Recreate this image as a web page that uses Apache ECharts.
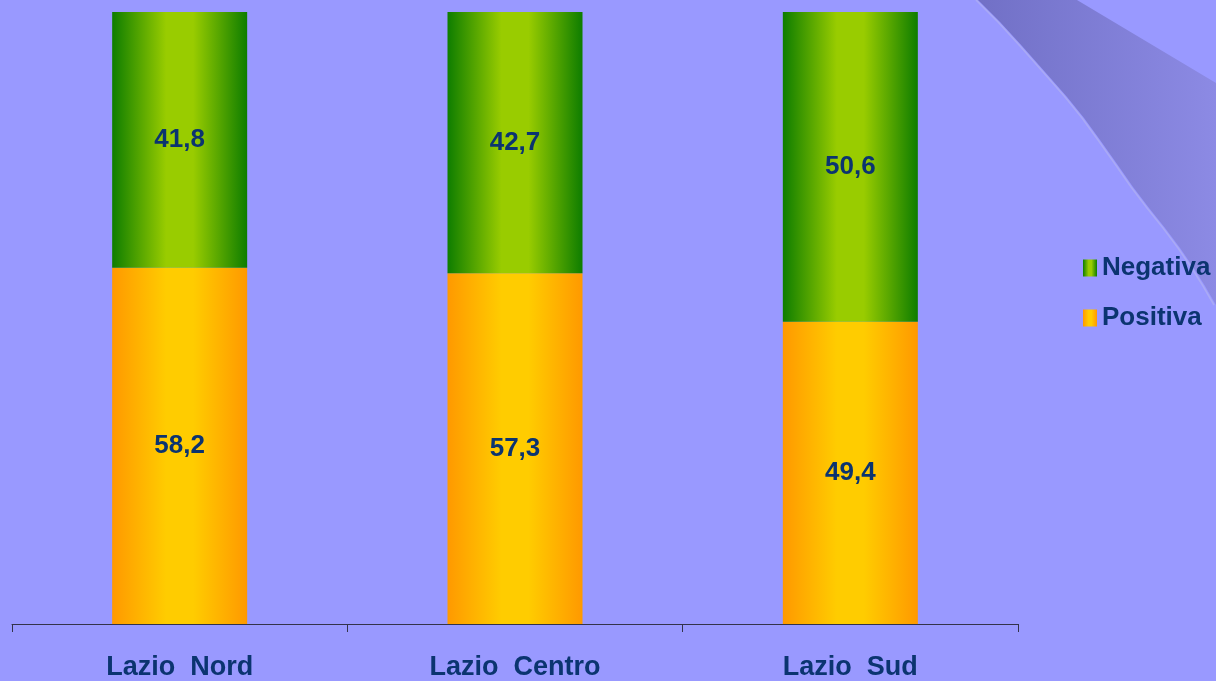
<!DOCTYPE html>
<html>
<head>
<meta charset="utf-8">
<script src="https://cdn.jsdelivr.net/npm/echarts@6/dist/echarts.min.js"></script>
<style>
    html, body { margin: 0; padding: 0; background: #9999ff; }
    #chart { width: 1216px; height: 681px; }
</style>
</head>
<body>
<div id="chart"></div>
<script>
const categories = ['Lazio  Nord', 'Lazio  Centro', 'Lazio  Sud'];
const positiva = [58.2, 57.3, 49.4];
const negativa = [41.8, 42.7, 50.6];

const textColor = '#0b3470';
const fontFamily = '"Liberation Sans", Arial, sans-serif';

// horizontal "cylinder" gradient: dark edges, light middle
function barGradient(edge, middle) {
    return new echarts.graphic.LinearGradient(0, 0, 1, 0, [
        { offset: 0, color: edge },
        { offset: 0.4, color: middle },
        { offset: 0.6, color: middle },
        { offset: 1, color: edge }
    ]);
}

const labelStyle = {
    show: true,
    position: 'inside',
    color: textColor,
    fontFamily: fontFamily,
    fontWeight: 'bold',
    fontSize: 26,
    formatter: p => String(p.value.toFixed(1)).replace('.', ',')
};

// curved decoration in the top right corner
const curveLeft = [
    [978, 0], [1000, 22], [1022, 46], [1045, 72], [1067, 97], [1084, 118],
    [1100, 140], [1117, 164], [1133, 187], [1149, 208], [1165, 228],
    [1180, 248], [1193, 267], [1205, 286], [1216, 305]
];

const chart = echarts.init(document.getElementById('chart'));

chart.setOption({
    backgroundColor: '#9999ff',
    animation: false,
    graphic: [
        {
            type: 'polygon',
            silent: true,
            z: 0,
            shape: {
                points: curveLeft.concat([[1216, 83], [1077, 0]])
            },
            style: {
                fill: new echarts.graphic.LinearGradient(0, 0, 1, 0, [
                    { offset: 0, color: '#7170c6' },
                    { offset: 1, color: '#8c8ae4' }
                ])
            }
        },
        {
            type: 'polyline',
            silent: true,
            z: 0,
            shape: {
                points: curveLeft.map(p => [p[0] - 2, p[1]])
            },
            style: { stroke: '#aaaaf5', lineWidth: 1.5, fill: null }
        }
    ],
    grid: {
        left: 12,
        right: 198,
        top: 12,
        bottom: 57,
        containLabel: false
    },
    legend: {
        orient: 'vertical',
        left: 1078,
        top: 250,
        icon: 'rect',
        itemWidth: 14,
        itemHeight: 17,
        itemGap: 24,
        data: ['Negativa', 'Positiva'],
        textStyle: {
            color: textColor,
            fontFamily: fontFamily,
            fontWeight: 'bold',
            fontSize: 26
        }
    },
    xAxis: {
        type: 'category',
        data: categories,
        axisLine: { lineStyle: { color: '#33334a', width: 1 } },
        axisTick: { show: true, alignWithLabel: false, length: 8, lineStyle: { color: '#33334a' } },
        axisLabel: {
            interval: 0,
            margin: 30,
            color: textColor,
            fontFamily: fontFamily,
            fontWeight: 'bold',
            fontSize: 27
        }
    },
    yAxis: {
        type: 'value',
        min: 0,
        max: 100,
        show: false
    },
    series: [
        {
            name: 'Positiva',
            type: 'bar',
            stack: 'total',
            barWidth: 135,
            data: positiva,
            itemStyle: { color: barGradient('#ff9900', '#ffcc00') },
            label: labelStyle
        },
        {
            name: 'Negativa',
            type: 'bar',
            stack: 'total',
            barWidth: 135,
            data: negativa,
            itemStyle: { color: barGradient('#0e7d00', '#99cc00') },
            label: labelStyle
        }
    ]
});
</script>
</body>
</html>
